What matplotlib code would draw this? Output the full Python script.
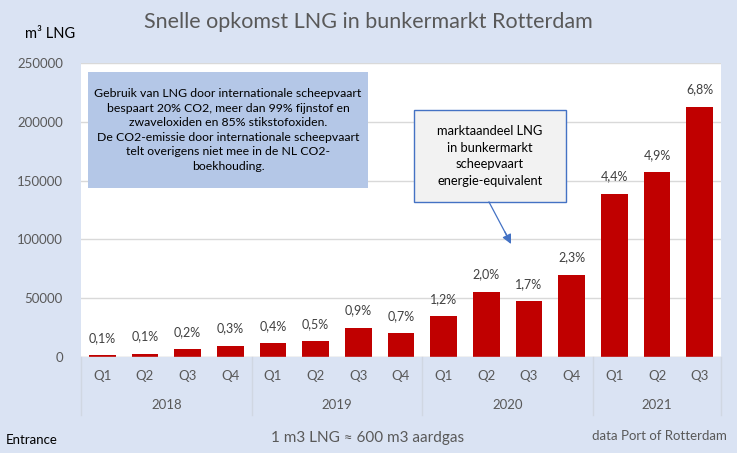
import matplotlib
matplotlib.use("Agg")
import matplotlib.pyplot as plt
from matplotlib.patches import Rectangle
from matplotlib.transforms import blended_transform_factory

plt.rcParams['font.family'] = ['Lato', 'DejaVu Sans']

quarters = ["Q1", "Q2", "Q3", "Q4", "Q1", "Q2", "Q3", "Q4",
            "Q1", "Q2", "Q3", "Q4", "Q1", "Q2", "Q3"]
years = ["2018", "2019", "2020", "2021"]
year_counts = [4, 4, 4, 3]
volumes = [1500, 2800, 6800, 9600, 12000, 13600, 25000, 20500,
           35000, 55500, 47800, 70000, 139000, 157000, 213000]
shares = ["0,1%", "0,1%", "0,2%", "0,3%", "0,4%", "0,5%", "0,9%", "0,7%",
          "1,2%", "2,0%", "1,7%", "2,3%", "4,4%", "4,9%", "6,8%"]
yticks = [0, 50000, 100000, 150000, 200000, 250000]

W, H = 737, 453
BG = "#DAE3F3"
GREY = "#595959"

fig = plt.figure(figsize=(W / 100, H / 100), dpi=100, facecolor=BG)

def fx(px):
    return px / W

def fy(py):
    return (H - py) / H

ax = fig.add_axes([fx(81), fy(357), fx(721) - fx(81), fy(63) - fy(357)])
ax.set_facecolor("white")
x = list(range(len(volumes)))
ax.bar(x, volumes, width=0.63, color="#C00000", zorder=3)
ax.set_xlim(-0.5, len(volumes) - 0.5)
ax.set_ylim(0, 250000)
ax.set_yticks(yticks)
ax.set_yticklabels([str(v) for v in yticks], color=GREY, fontsize=9.5)
ax.yaxis.grid(True, color="#D9D9D9", linewidth=1, zorder=0)
ax.tick_params(axis='y', length=0, pad=13)
ax.set_xticks([])
for s in ax.spines.values():
    s.set_visible(False)
ax.axhline(0, color="#D9D9D9", linewidth=1, zorder=4)

for xi, v, lab in zip(x, volumes, shares):
    ax.annotate(lab, (xi, v), xytext=(0, 8), textcoords="offset points",
                ha="center", va="bottom", fontsize=9, color="#404040")

tr = blended_transform_factory(ax.transData, fig.transFigure)
for xi, q in zip(x, quarters):
    fig.text(xi, fy(376), q, transform=tr, ha="center", va="center",
             fontsize=9.5, color=GREY)

start = 0
bounds = [-0.5]
for yr, n in zip(years, year_counts):
    center = start + (n - 1) / 2
    fig.text(center, fy(405), yr, transform=tr, ha="center", va="center",
             fontsize=9.5, color=GREY)
    start += n
    bounds.append(start - 0.5)
for b in bounds:
    fig.add_artist(plt.Line2D([b, b], [fy(357), fy(415)], transform=tr,
                              color="#D0D7E2", linewidth=1))

fig.text(0.5, fy(22), "Snelle opkomst LNG in bunkermarkt Rotterdam",
         ha="center", va="center", fontsize=15.5, color=GREY)
fig.text(fx(25), fy(34), "m³ LNG", ha="left", va="center", fontsize=10.5,
         color="black")

# info box
fig.add_artist(Rectangle((fx(88), fy(188)), fx(368) - fx(88), fy(72) - fy(188),
                         transform=fig.transFigure, facecolor="#B4C7E7",
                         edgecolor="none", zorder=5))
info = ("Gebruik van LNG door internationale scheepvaart\n"
        "bespaart 20% CO2, meer dan 99% fijnstof en\n"
        "zwaveloxiden en 85% stikstofoxiden.\n"
        "De CO2-emissie door internationale scheepvaart\n"
        "telt overigens niet mee in de NL CO2-\n"
        "boekhouding.")
fig.text(fx(228), fy(130), info, ha="center", va="center", fontsize=8.8,
         color="black", linespacing=1.38, zorder=6)

# market share box
fig.add_artist(Rectangle((fx(414), fy(202)), fx(566) - fx(414), fy(110) - fy(202),
                         transform=fig.transFigure, facecolor="#F2F2F2",
                         edgecolor="#4472C4", linewidth=1, zorder=5))
fig.text(fx(490), fy(156),
         "marktaandeel LNG\nin bunkermarkt\nscheepvaart\nenergie-equivalent",
         ha="center", va="center", fontsize=9.3, color="black",
         linespacing=1.45, zorder=6)
fig.add_artist(plt.Line2D([fx(489), fx(507)], [fy(202), fy(236)],
                          transform=fig.transFigure, color="#4472C4",
                          linewidth=0.9, zorder=5))
ann = ax.annotate("", xy=(fx(511), fy(244)), xycoords="figure fraction",
                  xytext=(fx(505), fy(232)), textcoords="figure fraction",
                  arrowprops=dict(arrowstyle="-|>", color="#4472C4",
                                  mutation_scale=14, lw=0.9,
                                  shrinkA=0, shrinkB=0), zorder=6)

fig.text(fx(6), fy(440), "Entrance", ha="left", va="center", fontsize=9.5,
         color="black")
fig.text(fx(368), fy(438), "1 m3 LNG ≈ 600 m3 aardgas", ha="center",
         va="center", fontsize=11, color=GREY)
fig.text(fx(727), fy(436), "data Port of Rotterdam", ha="right",
         va="center", fontsize=9.5, color=GREY)

fig.savefig("out.png", dpi=100, facecolor=BG)
